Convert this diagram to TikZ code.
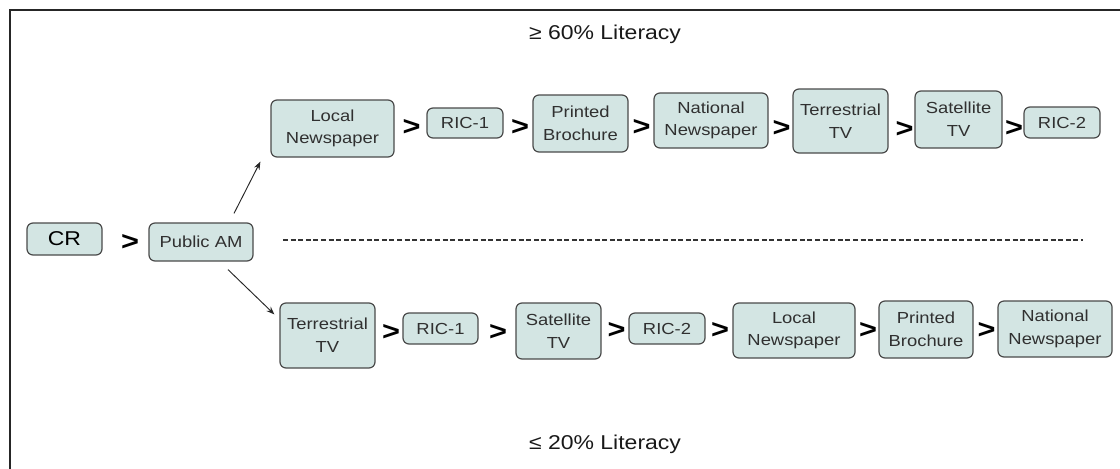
\documentclass[tikz,border=0pt]{standalone}
\usepackage{fontspec}
\setmainfont{Liberation Sans}[FakeStretch=1.15]
\usetikzlibrary{calc,arrows.meta}
\definecolor{boxfill}{HTML}{D3E5E3}
\definecolor{boxline}{HTML}{4A4A4A}
\definecolor{boxtext}{HTML}{303030}
\tikzset{
  bx/.style 2 args={draw=boxline, line width=0.9pt, fill=boxfill, rounded corners=4.5pt,
    minimum width=#1*0.75pt, minimum height=#2*0.75pt, inner sep=0pt, align=center,
    text=boxtext, font=\fontsize{12}{17}\selectfont},
  gt/.style={inner sep=0pt, font=\fontsize{20}{20}\selectfont\bfseries, text=black},
  ttl/.style={inner sep=0pt, font=\fontsize{15}{18}\selectfont, text=black!90},
  arr/.style={-{Stealth[length=6pt,width=4.5pt]}, line width=0.7pt, draw=black!85},
  frame/.style={line width=1.8pt, draw=black!85},
  sep/.style={dash pattern=on 3.8pt off 1.9pt, line width=1pt, draw=black!80}
}
\begin{document}
\begin{tikzpicture}[x=0.75pt,y=-0.75pt]
\useasboundingbox (0,0) rectangle (1120,468);
\draw[frame] (10,470) -- (10,10) -- (1122,10);

\node[ttl] (top) at (605,34) {≥ 60\% Literacy};
\node[ttl] (bot) at (605,444) {≤ 20\% Literacy};

% middle
\node[bx={75}{32}, text=black, font=\fontsize{15}{17}\selectfont] (cr) at (64.5,239) {CR};
\node[gt] (g0) at (130,242) {>};
\node[bx={104}{38}] (pam) at (201,242) {Public AM};
\coordinate (d1) at (283,240);
\coordinate (d2) at (1083,240);
\draw[sep] (d1) -- (d2);

% top row
\node[bx={123}{57}] (ln1) at (332.5,128.5) {Local\\Newspaper};
\node[gt] (g1) at (411.5,127) {>};
\node[bx={76}{30}] (ric1a) at (465,123) {RIC-1};
\node[gt] (g2) at (520,127) {>};
\node[bx={95}{57}] (pb1) at (580.5,123.5) {Printed\\Brochure};
\node[gt] (g3) at (641.5,127) {>};
\node[bx={114}{55}] (nn1) at (711,120.5) {National\\Newspaper};
\node[gt] (g4) at (781.5,128) {>};
\node[bx={95}{64}] (tt1) at (840.5,121) {Terrestrial\\TV};
\node[gt] (g5) at (904.5,129) {>};
\node[bx={87}{57}] (st1) at (958.5,119.5) {Satellite\\TV};
\node[gt] (g6) at (1014,128) {>};
\node[bx={76}{31}] (ric2a) at (1062,122.5) {RIC-2};

% bottom row
\node[bx={95}{65}] (tt2) at (327.5,335.5) {Terrestrial\\TV};
\node[gt] (h1) at (391,332) {>};
\node[bx={75}{31}] (ric1b) at (440.5,328.5) {RIC-1};
\node[gt] (h2) at (498,332) {>};
\node[bx={85}{56}] (st2) at (558.5,331) {Satellite\\TV};
\node[gt] (h3) at (616.5,330) {>};
\node[bx={76}{31}] (ric2b) at (667,328.5) {RIC-2};
\node[gt] (h4) at (720,330) {>};
\node[bx={122}{55}] (ln2) at (794,330.5) {Local\\Newspaper};
\node[gt] (h5) at (868,330) {>};
\node[bx={94}{57}] (pb2) at (926,329.5) {Printed\\Brochure};
\node[gt] (h6) at (986.5,330) {>};
\node[bx={114}{56}] (nn2) at (1055,329) {National\\Newspaper};

% connectors
\draw[arr] ($(pam.north)+(33,-9)$) -- ($(ln1.south west)+(-10,4)$);
\draw[arr] ($(pam.south)+(27,8)$) -- ($(tt2.north west)+(-5,12)$);
\end{tikzpicture}
\end{document}
